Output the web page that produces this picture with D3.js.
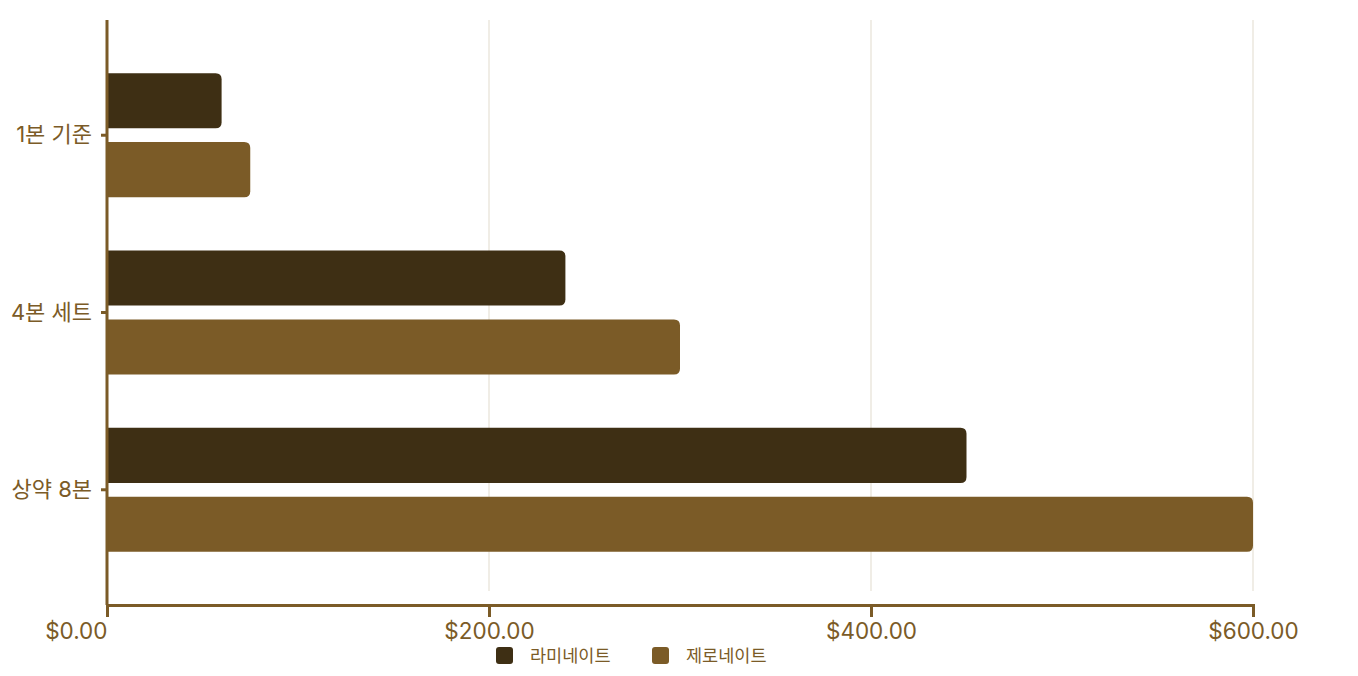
<!DOCTYPE html>
<html>
<head>
<meta charset="utf-8">
<script src="https://cdn.jsdelivr.net/npm/d3@7"></script>
<style>
  body { margin: 0; background: #fff; }
  svg text { font-family: Inter, "Noto Sans CJK KR", sans-serif; }
</style>
</head>
<body>
<div id="chart"></div>
<script>
var categories = ["1본 기준", "4본 세트", "상약 8본"];
var seriesNames = ["라미네이트", "제로네이트"];
var laminate = [60, 240, 450];
var zeronate = [75, 300, 600];
var xTicks = [0, 200, 400, 600];

var colors = ["#3e2f14", "#7b5b27"];
var axisColor = "#7b5b27";

var width = 1358, height = 676;
var plotLeft = 107, plotRight = 1253, plotTop = 20, plotBottom = 605;

var svg = d3.select("#chart").append("svg")
	.attr("width", width)
	.attr("height", height);

var x = d3.scaleLinear().domain([0, 600]).range([plotLeft, plotRight]);
var y = d3.scaleBand().domain(categories).range([plotTop, plotBottom])
	.paddingInner(0.3).paddingOuter(0.3);
var ySub = d3.scaleBand().domain(seriesNames).range([0, y.bandwidth()])
	.paddingInner(0.2);

// grid
svg.append("g").selectAll("line")
	.data(xTicks.slice(1))
	.enter().append("line")
	.attr("x1", function(d) { return x(d); })
	.attr("x2", function(d) { return x(d); })
	.attr("y1", plotTop)
	.attr("y2", plotBottom - 14)
	.attr("stroke", "#e6e1d6")
	.attr("stroke-width", 1.2);

var rows = categories.map(function(c, i) {
	return [
		{ cat: c, name: seriesNames[0], value: laminate[i], color: colors[0] },
		{ cat: c, name: seriesNames[1], value: zeronate[i], color: colors[1] }
	];
});

function barPath(d) {
	var x0 = x(0), x1 = x(d.value);
	var y0 = y(d.cat) + ySub(d.name), h = ySub.bandwidth();
	var r = 6;
	return "M" + x0 + "," + y0 +
		"H" + (x1 - r) +
		"Q" + x1 + "," + y0 + " " + x1 + "," + (y0 + r) +
		"V" + (y0 + h - r) +
		"Q" + x1 + "," + (y0 + h) + " " + (x1 - r) + "," + (y0 + h) +
		"H" + x0 + "Z";
}

svg.append("g").selectAll("path")
	.data(rows.flat())
	.enter().append("path")
	.attr("d", barPath)
	.attr("fill", function(d) { return d.color; });

// x axis
var xAxis = svg.append("g")
	.attr("transform", "translate(0," + plotBottom + ")")
	.call(d3.axisBottom(x).tickValues(xTicks).tickSize(12).tickSizeOuter(0)
		.tickFormat(function(d) { return "$" + d3.format(",.2f")(d); }));
xAxis.select(".domain").attr("stroke", axisColor).attr("stroke-width", 3);
xAxis.selectAll(".tick line").attr("stroke", axisColor).attr("stroke-width", 3)
	.attr("y1", -1);
xAxis.selectAll(".tick text")
	.attr("fill", axisColor)
	.attr("font-size", "22.5px")
	.attr("dy", "0.5em")
	.attr("y", 23)
	.attr("text-anchor", function(d, i) { return i === 0 ? "end" : "middle"; });

// y axis
var yAxis = svg.append("g")
	.attr("transform", "translate(" + plotLeft + ",0)")
	.call(d3.axisLeft(y).tickSize(6).tickSizeOuter(0));
yAxis.select(".domain").attr("stroke", axisColor).attr("stroke-width", 3)
	.attr("d", "M0," + plotTop + "V" + plotBottom);
yAxis.selectAll(".tick line").attr("stroke", axisColor).attr("stroke-width", 3);
yAxis.selectAll(".tick text")
	.attr("fill", axisColor)
	.attr("font-size", "22px")
	.attr("x", -15);

// legend
var legendX = [496, 652];
var legend = svg.append("g").selectAll("g")
	.data(seriesNames)
	.enter().append("g")
	.attr("transform", function(d, i) { return "translate(" + legendX[i] + ",647)"; });
legend.append("rect")
	.attr("width", 17).attr("height", 17).attr("rx", 3)
	.attr("fill", function(d, i) { return colors[i]; });
legend.append("text")
	.attr("x", 34).attr("y", 9)
	.attr("dy", "0.35em")
	.attr("font-size", "17.5px")
	.attr("fill", axisColor)
	.text(function(d) { return d; });
</script>
</body>
</html>
